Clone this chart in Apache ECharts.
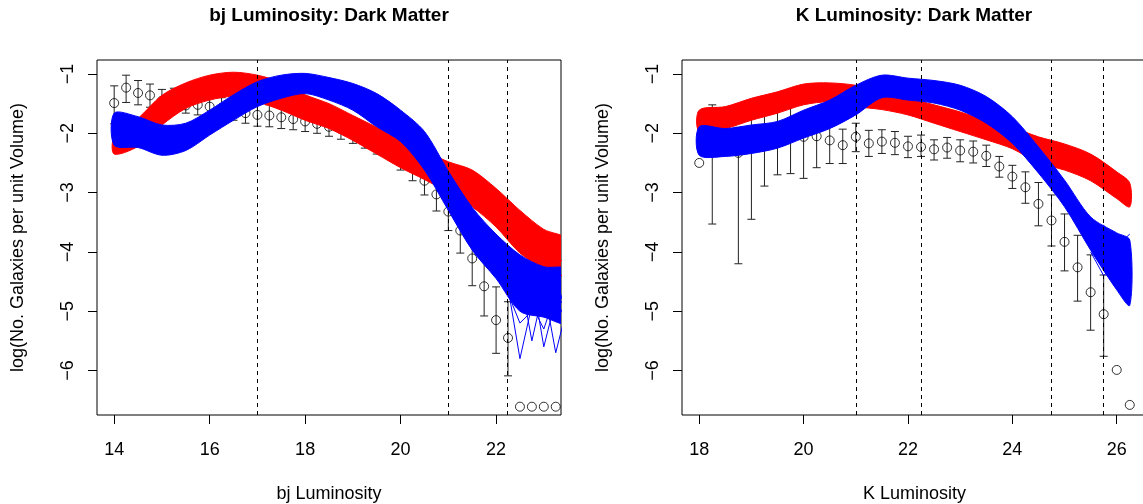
<!DOCTYPE html>
<html><head><meta charset="utf-8">
<script src="https://cdn.jsdelivr.net/npm/echarts@6/dist/echarts.min.js"></script>
<style>html,body{margin:0;padding:0;background:#fff}#c{width:1143px;height:504px}</style>
</head><body><div id="c"></div>
<script>
// ---------- bj panel data ----------
const bjX = [14,14.25,14.5,14.75,15,15.25,15.5,15.75,16,16.25,16.5,16.75,17,17.25,17.5,17.75,18,18.25,18.5,18.75,19,19.25,19.5,19.75,20,20.25,20.5,20.75,21,21.25,21.5,21.75,22,22.25,22.5,22.75,23,23.25];
const bjObs = [-1.49,-1.23,-1.32,-1.36,-1.45,-1.47,-1.53,-1.52,-1.55,-1.57,-1.59,-1.66,-1.69,-1.70,-1.73,-1.76,-1.80,-1.84,-1.89,-1.93,-1.99,-2.06,-2.13,-2.22,-2.39,-2.59,-2.80,-3.03,-3.32,-3.64,-4.11,-4.58,-5.15,-5.45,-6.61,-6.61,-6.61,-6.61];
const bjErrLo = [-1.84,-1.48,-1.52,-1.56,-1.64,-1.64,-1.66,-1.69,-1.72,-1.75,-1.78,-1.83,-1.88,-1.89,-1.92,-1.94,-1.97,-2.00,-2.05,-2.10,-2.17,-2.25,-2.35,-2.42,-2.62,-2.80,-3.04,-3.31,-3.64,-4.02,-4.57,-5.08,-5.71,-6.09,null,null,null,null];
const bjErrHi = [-1.20,-1.02,-1.11,-1.17,-1.26,-1.24,-1.40,-1.41,-1.41,-1.40,-1.42,-1.52,-1.49,-1.52,-1.58,-1.61,-1.66,-1.69,-1.76,-1.80,-1.86,-1.92,-1.98,-2.06,-2.20,-2.37,-2.59,-2.82,-3.04,-3.38,-3.77,-4.08,-4.59,-4.84,null,null,null,null];
const bjBandX = [14,14.5,15,15.5,16,16.5,17,17.5,18,18.5,19,19.5,20,20.5,21,21.5,22,22.5,23,23.5];
const bjRedTop = [-2.06,-1.75,-1.36,-1.15,-1.02,-0.97,-1.02,-1.14,-1.35,-1.50,-1.70,-1.90,-2.12,-2.30,-2.48,-2.62,-2.93,-3.30,-3.62,-3.80];
const bjRedBot = [-2.35,-2.22,-1.86,-1.58,-1.44,-1.38,-1.47,-1.61,-1.78,-1.92,-2.12,-2.35,-2.58,-2.78,-3.00,-3.24,-3.58,-4.02,-4.30,-4.60];
const bjBlueTop = [-1.66,-1.72,-1.86,-1.83,-1.61,-1.35,-1.13,-1.02,-0.99,-1.06,-1.16,-1.33,-1.61,-1.97,-2.64,-3.25,-3.70,-4.05,-4.25,-4.30];
const bjBlueBot = [-2.20,-2.24,-2.37,-2.29,-2.03,-1.78,-1.55,-1.41,-1.33,-1.44,-1.61,-1.89,-2.14,-2.62,-3.30,-3.97,-4.45,-5.00,-5.10,-5.20];
const bjTailX = [22,22.25,22.5,22.75,23,23.25,23.5];
const bjBlueTail1 = [-4.30,-4.60,-5.80,-4.90,-5.30,-4.70,-5.00];
const bjBlueTail2 = [-4.10,-4.50,-4.40,-5.50,-4.60,-5.70,-4.90];
const bjBlueTail3 = [-3.90,-4.30,-4.90,-4.40,-5.60,-4.80,-5.20];
const bjBlueTail4 = [-4.20,-4.70,-5.20,-5.00,-4.50,-5.10,-4.40];
const bjRedTail1 = [-3.10,-3.30,-3.60,-3.70,-3.95,-4.30,-4.50];
const bjRedTail2 = [-3.30,-3.50,-3.70,-4.00,-3.90,-4.10,-4.20];
const bjDash = [17, 21, 22.24];
const bjTicks = [14,16,18,20,22];

// ---------- K panel data ----------
const kX = [18,18.25,18.5,18.75,19,19.25,19.5,19.75,20,20.25,20.5,20.75,21,21.25,21.5,21.75,22,22.25,22.5,22.75,23,23.25,23.5,23.75,24,24.25,24.5,24.75,25,25.25,25.5,25.75,26,26.25];
const kObs = [-2.50,-2.05,null,-2.33,-2.23,-2.15,-2.10,-2.05,-2.06,-2.05,-2.12,-2.20,-2.06,-2.17,-2.14,-2.16,-2.22,-2.23,-2.27,-2.24,-2.29,-2.31,-2.38,-2.56,-2.73,-2.91,-3.19,-3.47,-3.83,-4.26,-4.68,-5.05,-5.99,-6.58];
const kErrLo = [null,-3.53,null,-4.20,-3.45,-2.89,-2.70,-2.68,-2.76,-2.58,-2.51,-2.51,-2.31,-2.39,-2.34,-2.36,-2.41,-2.39,-2.45,-2.42,-2.48,-2.50,-2.56,-2.74,-2.93,-3.18,-3.56,-3.90,-4.32,-4.83,-5.32,-5.76,null,null];
const kErrHi = [null,-1.52,null,-1.90,-1.72,-1.61,-1.52,-1.55,-1.75,-1.86,-1.80,-1.93,-1.83,-1.95,-1.94,-1.97,-2.05,-2.03,-2.11,-2.07,-2.11,-2.13,-2.20,-2.39,-2.54,-2.65,-2.83,-3.04,-3.36,-3.72,-4.05,-4.39,null,null];
const kBandX = [18,18.5,19,19.5,20,20.5,21,21.5,22,22.5,23,23.5,24,24.5,25,25.5,26,26.25];
const kRedTop = [-1.61,-1.55,-1.41,-1.30,-1.17,-1.15,-1.19,-1.28,-1.40,-1.52,-1.64,-1.78,-1.90,-2.06,-2.18,-2.35,-2.65,-2.84];
const kRedBot = [-1.97,-1.92,-1.78,-1.66,-1.52,-1.47,-1.55,-1.60,-1.69,-1.83,-1.97,-2.11,-2.26,-2.50,-2.62,-2.80,-3.10,-3.24];
const kBlueTop = [-1.89,-1.92,-1.86,-1.80,-1.61,-1.44,-1.19,-1.02,-1.07,-1.11,-1.19,-1.38,-1.72,-2.23,-2.79,-3.41,-3.68,-3.80];
const kBlueBot = [-2.37,-2.39,-2.34,-2.25,-2.08,-1.92,-1.69,-1.40,-1.44,-1.49,-1.61,-1.83,-2.17,-2.67,-3.24,-3.97,-4.64,-4.90];
const kTailX = [25.5,25.75,26,26.25];
const kBlueTail1 = [-3.60,-3.55,-3.90,-3.70];
const kBlueTail2 = [-3.90,-4.30,-3.80,-4.20];
const kBlueTail3 = [-3.70,-4.00,-4.50,-4.00];
const kBlueTail4 = [-4.00,-4.40,-4.20,-4.85];
const kDash = [21, 22.25, 24.75, 25.75];
const kTicks = [18,20,22,24,26];

const yTicks = [-6,-5,-4,-3,-2,-1];
const RED = '#ff0000', BLUE = '#0000ff';
const FONT = '"Liberation Sans", Arial, Helvetica, sans-serif';

function pairs(xs, ys){ const o=[]; xs.forEach((x,i)=>{ if(ys[i]!=null) o.push([x, ys[i]]); }); return o; }
function errData(xs, lo, hi){ const o=[]; xs.forEach((x,i)=>{ if(lo[i]!=null && hi[i]!=null) o.push([x, lo[i], hi[i]]); }); return o; }

function errSeries(gi, data){
  return {type:'custom', xAxisIndex:gi, yAxisIndex:gi, z:2, silent:true, clip:true, data,
    encode:{x:0, y:[1,2]},
    renderItem(params, api){
      const x=api.value(0), lo=api.value(1), hi=api.value(2);
      const a=api.coord([x,hi]), b=api.coord([x,lo]); const w=4;
      const st={stroke:'#222', lineWidth:1};
      return {type:'group', children:[
        {type:'line', shape:{x1:a[0],y1:a[1],x2:b[0],y2:b[1]}, style:st},
        {type:'line', shape:{x1:a[0]-w,y1:a[1],x2:a[0]+w,y2:a[1]}, style:st},
        {type:'line', shape:{x1:b[0]-w,y1:b[1],x2:b[0]+w,y2:b[1]}, style:st}]};
    }};
}
function bandSeries(gi, xs, top, bot, color, z){
  const data = xs.map((x,i)=>[x, top[i], bot[i]]);
  return {type:'custom', xAxisIndex:gi, yAxisIndex:gi, z, silent:true, clip:true, data,
    encode:{x:0, y:[1,2]},
    renderItem(params, api){
      if (params.dataIndex !== 0) return null;
      const pts=[];
      xs.forEach((x,i)=>pts.push(api.coord([x, top[i]])));
      for (let i=xs.length-1;i>=0;i--) pts.push(api.coord([xs[i], bot[i]]));
      return {type:'polygon', shape:{points:pts, smooth:0.3},
        style:{fill:color, stroke:color, lineWidth:1}};
    }};
}
function lineS(gi, xs, ys, color, z){
  return {type:'line', xAxisIndex:gi, yAxisIndex:gi, data:xs.map((x,i)=>[x,ys[i]]),
    symbol:'none', showSymbol:false, lineStyle:{color, width:1}, z, silent:true, clip:true};
}
function scatterS(gi, xs, ys){
  return {type:'scatter', xAxisIndex:gi, yAxisIndex:gi, data:pairs(xs, ys), symbol:'circle', symbolSize:9,
    itemStyle:{color:'rgba(0,0,0,0)', borderColor:'#000', borderWidth:1}, z:2, silent:true};
}
function dashS(gi, xs){
  return {type:'line', xAxisIndex:gi, yAxisIndex:gi, data:[], z:6,
    markLine:{silent:true, symbol:['none','none'], label:{show:false},
      lineStyle:{color:'#000', type:[4,4], width:1}, data:xs.map(x=>({xAxis:x}))}};
}
function xAx(gi, min, max, ticks, name){
  return {type:'value', gridIndex:gi, min, max, name, nameLocation:'middle', nameGap:70,
    nameTextStyle:{fontSize:18, color:'#000', fontFamily:FONT},
    axisLine:{show:false}, splitLine:{show:false},
    axisTick:{show:true, length:9, customValues:ticks, lineStyle:{color:'#000', width:1}},
    axisLabel:{customValues:ticks, fontSize:18, color:'#000', fontFamily:FONT, margin:26}};
}
function yAx(gi){
  return {type:'value', gridIndex:gi, min:-6.75, max:-0.764, name:'log(No. Galaxies per unit Volume)',
    nameLocation:'middle', nameRotate:90, nameGap:70,
    nameTextStyle:{fontSize:18, color:'#000', fontFamily:FONT},
    axisLine:{show:false}, splitLine:{show:false},
    axisTick:{show:true, length:9, customValues:yTicks, lineStyle:{color:'#000', width:1}},
    axisLabel:{customValues:yTicks, rotate:90, fontSize:18, color:'#000', fontFamily:FONT, margin:20,
      formatter:v=>String(v).replace('-', '\u2212')}};
}

const chart = echarts.init(document.getElementById('c'));
const series = [];
// bj panel (grid 0)
series.push(errSeries(0, errData(bjX, bjErrLo, bjErrHi)));
series.push(scatterS(0, bjX, bjObs));
series.push(bandSeries(0, bjBandX, bjRedTop, bjRedBot, RED, 3));
series.push(lineS(0, bjTailX, bjRedTail1, RED, 3));
series.push(lineS(0, bjTailX, bjRedTail2, RED, 3));
series.push(bandSeries(0, bjBandX, bjBlueTop, bjBlueBot, BLUE, 4));
[bjBlueTail1, bjBlueTail2, bjBlueTail3, bjBlueTail4].forEach(t=>series.push(lineS(0, bjTailX, t, BLUE, 4)));
series.push(dashS(0, bjDash));
// K panel (grid 1)
series.push(errSeries(1, errData(kX, kErrLo, kErrHi)));
series.push(scatterS(1, kX, kObs));
series.push(bandSeries(1, kBandX, kRedTop, kRedBot, RED, 3));
series.push(bandSeries(1, kBandX, kBlueTop, kBlueBot, BLUE, 4));
[kBlueTail1, kBlueTail2, kBlueTail3, kBlueTail4].forEach(t=>series.push(lineS(1, kTailX, t, BLUE, 4)));
series.push(dashS(1, kDash));

chart.setOption({
  animation:false,
  backgroundColor:'#fff',
  textStyle:{fontFamily:FONT},
  grid:[
    {left:97, top:60, width:464, height:355, show:true, borderColor:'#000', borderWidth:1, backgroundColor:'transparent', containLabel:false, outerBoundsMode:'none'},
    {left:682, top:60, width:465, height:355, show:true, borderColor:'#000', borderWidth:1, backgroundColor:'transparent', containLabel:false, outerBoundsMode:'none'}
  ],
  xAxis:[xAx(0, 13.64, 23.36, bjTicks, 'bj Luminosity'), xAx(1, 17.67, 26.58, kTicks, 'K Luminosity')],
  yAxis:[yAx(0), yAx(1)],
  graphic:[
    {type:'text', x:329, y:6, style:{text:'bj Luminosity: Dark Matter', font:'bold 19px '+FONT, fill:'#000', align:'center', textAlign:'center', verticalAlign:'top', textVerticalAlign:'top'}},
    {type:'text', x:914, y:6, style:{text:'K Luminosity: Dark Matter', font:'bold 19px '+FONT, fill:'#000', align:'center', textAlign:'center', verticalAlign:'top', textVerticalAlign:'top'}}
  ],
  series
});
</script></body></html>
